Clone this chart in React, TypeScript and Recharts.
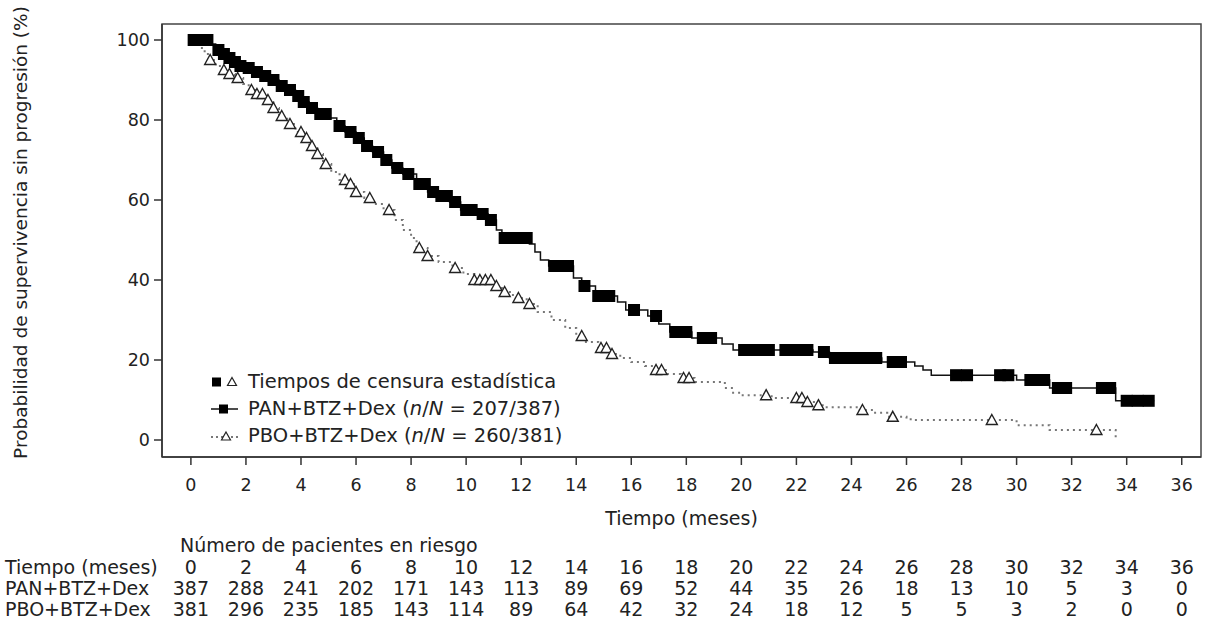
import React from "react";
import {
  ComposedChart,
  Line,
  Scatter,
  XAxis,
  YAxis,
  ReferenceArea,
} from "recharts";

// Kaplan-Meier step points (time in months, survival %)
const panTimes = [0, 0.7, 0.9, 1.1, 1.3, 1.5, 1.7, 2.0, 2.3, 2.6, 2.9, 3.2, 3.5, 3.8, 4.0, 4.3, 4.6, 5.0, 5.3, 5.6, 6.0, 6.3, 6.6, 7.0, 7.3, 7.7, 8.2, 8.6, 9.0, 9.4, 9.8, 10.4, 10.8, 11.1, 11.3, 12.3, 12.5, 12.7, 13.0, 13.9, 14.2, 14.7, 15.5, 15.8, 16.6, 17.0, 17.4, 18.2, 19.3, 19.7, 22.6, 23.2, 25.1, 26.3, 26.6, 26.9, 30.0, 31.2, 33.6, 35.0];
const panSurv = [100, 99, 97.5, 96.5, 95.5, 94.5, 93.5, 93, 92, 91, 90, 88.5, 87.5, 86, 84.5, 83, 81.5, 80.5, 78.5, 77, 75.5, 73.5, 72, 70, 68, 66.5, 64, 62, 61, 59.5, 57.5, 56.5, 55, 52.5, 50.5, 49, 47, 45, 43.5, 40.5, 38.5, 36, 34.5, 32.5, 31, 29, 27, 25.5, 24, 22.5, 22, 20.5, 19.5, 18.5, 17.5, 16.2, 15, 13, 9.8, 9.8];
const panCensor = [0.1, 0.2, 0.3, 0.4, 0.5, 0.6, 1.0, 1.2, 1.4, 1.6, 1.8, 2.1, 2.4, 2.7, 3.0, 3.3, 3.6, 3.9, 4.1, 4.4, 4.7, 4.9, 5.4, 5.8, 6.1, 6.4, 6.8, 7.1, 7.5, 7.9, 8.3, 8.5, 8.8, 9.1, 9.3, 9.6, 10.0, 10.2, 10.6, 10.9, 11.4, 11.6, 11.8, 12.0, 12.2, 13.2, 13.5, 13.7, 14.3, 14.8, 15.0, 15.2, 16.1, 16.9, 17.6, 17.8, 18.0, 18.6, 18.9, 20.1, 20.4, 20.7, 21.0, 21.6, 21.9, 22.2, 22.4, 23.0, 23.4, 23.7, 24.0, 24.3, 24.7, 24.9, 25.5, 25.8, 27.8, 28.2, 29.4, 29.7, 30.5, 30.8, 31.0, 31.5, 31.8, 33.1, 33.4, 34.0, 34.4, 34.8];

const pboTimes = [0, 0.3, 0.5, 0.7, 0.9, 1.1, 1.3, 1.6, 1.9, 2.1, 2.4, 2.7, 3.0, 3.2, 3.5, 3.8, 4.1, 4.3, 4.6, 4.8, 5.1, 5.4, 5.8, 6.0, 6.3, 6.6, 7.0, 7.4, 7.7, 8.0, 8.2, 8.6, 9.0, 9.5, 9.9, 10.3, 11.0, 11.3, 11.7, 12.2, 12.6, 13.1, 13.6, 14.0, 14.3, 14.8, 15.2, 15.6, 16.0, 16.5, 16.9, 17.3, 17.8, 18.3, 19.4, 19.7, 20.0, 21.1, 22.3, 22.8, 23.1, 24.3, 24.8, 25.3, 26.0, 26.3, 30.0, 31.2, 33.6];
const pboSurv = [100, 98, 96.5, 95, 93.5, 92.5, 91.5, 90.5, 89, 87.5, 86.5, 85, 83, 81, 79, 77, 75.5, 73.5, 71.5, 69, 67, 65, 64, 62, 60.5, 59, 57.5, 55, 52.5, 50.5, 48, 46, 44.5, 43, 41.5, 40, 38.5, 37, 35.5, 34, 32, 30, 28, 26, 24.5, 23, 21.5, 20.5, 19.5, 18.5, 17.5, 16.5, 15.5, 14.5, 13, 11.8, 11.2, 10.5, 9.5, 8.7, 8.2, 7.5, 6.8, 5.8, 5.2, 5.0, 3.7, 2.5, 0];
const pboCensor = [0.7, 1.2, 1.4, 1.7, 2.2, 2.4, 2.6, 2.8, 3.0, 3.3, 3.6, 4.0, 4.2, 4.4, 4.6, 4.9, 5.6, 5.8, 6.0, 6.5, 7.2, 8.3, 8.6, 9.6, 10.3, 10.5, 10.7, 10.9, 11.1, 11.4, 11.9, 12.3, 14.2, 14.9, 15.1, 15.3, 16.9, 17.1, 17.9, 18.1, 20.9, 22.0, 22.2, 22.4, 22.8, 24.4, 25.5, 29.1, 32.9];

// Number at risk table
const riskTimes = [0, 2, 4, 6, 8, 10, 12, 14, 16, 18, 20, 22, 24, 26, 28, 30, 32, 34, 36];
const panAtRisk = [387, 288, 241, 202, 171, 143, 113, 89, 69, 52, 44, 35, 26, 18, 13, 10, 5, 3, 0];
const pboAtRisk = [381, 296, 235, 185, 143, 114, 89, 64, 42, 32, 24, 18, 12, 5, 5, 3, 2, 0, 0];

const yTicks = [0, 20, 40, 60, 80, 100];

const FONT = "DejaVu Sans";
const INK = "#222";

const toPoints = (ts: number[], ss: number[]) => ts.map((t, i) => ({ t, s: ss[i] }));

// place censor marks on the step curve
const onCurve = (cs: number[], ts: number[], ss: number[]) =>
  cs.map((c) => {
    let k = 0;
    for (let i = 0; i < ts.length; i++) if (ts[i] <= c) k = i;
    return { t: c, s: ss[k] };
  });

const panLine = toPoints(panTimes, panSurv);
const pboLine = toPoints(pboTimes, pboSurv);
const panMarks = onCurve(panCensor, panTimes, panSurv);
const pboMarks = onCurve(pboCensor, pboTimes, pboSurv);

const Square = (p: any) => (
  <rect x={p.cx - 6} y={p.cy - 6} width={12} height={12} fill="#000" />
);

const Triangle = (p: any) => (
  <path
    d={`M${p.cx},${p.cy - 5.5} L${p.cx + 5.5},${p.cy + 4.5} L${p.cx - 5.5},${p.cy + 4.5} Z`}
    fill="#fff"
    stroke="#222"
    strokeWidth={1.4}
  />
);

const tickTxt = { fontFamily: FONT, fontSize: 17.5, fill: INK };
const txt = { fontFamily: FONT, fontSize: 19, fill: INK };

const XTick = (props: any) => {
  const { x, y, payload } = props;
  const i = riskTimes.indexOf(payload.value);
  return (
    <g>
      <text x={x} y={y + 24} textAnchor="middle" style={tickTxt}>{payload.value}</text>
      <text x={x} y={y + 107} textAnchor="middle" style={txt}>{riskTimes[i]}</text>
      <text x={x} y={y + 128} textAnchor="middle" style={txt}>{panAtRisk[i]}</text>
      <text x={x} y={y + 149} textAnchor="middle" style={txt}>{pboAtRisk[i]}</text>
      {i === 0 && (
        <g>
          <text x={180} y={y + 85} style={txt}>Número de pacientes en riesgo</text>
          <text x={5} y={y + 107} style={txt}>Tiempo (meses)</text>
          <text x={5} y={y + 128} style={txt}>PAN+BTZ+Dex</text>
          <text x={5} y={y + 149} style={txt}>PBO+BTZ+Dex</text>
        </g>
      )}
    </g>
  );
};

const legendRow: React.CSSProperties = {
  position: "absolute",
  left: 208,
  display: "flex",
  alignItems: "center",
  fontFamily: FONT,
  fontSize: 19.5,
  color: INK,
  whiteSpace: "nowrap",
  lineHeight: "22px",
};

export default function App() {
  return (
    <div style={{ position: "absolute", left: 0, top: 0, width: 1209, height: 623, background: "#fff" }}>
      <ComposedChart width={1209} height={623} margin={{ top: 24, right: 8, bottom: 0, left: 0 }}>
        <XAxis
          dataKey="t"
          type="number"
          domain={[-1.05, 36.7]}
          ticks={riskTimes}
          allowDataOverflow
          height={166}
          tickSize={8}
          tickMargin={2}
          axisLine={{ stroke: "#333", strokeWidth: 1.5 }}
          tickLine={{ stroke: "#333", strokeWidth: 1.5 }}
          tick={<XTick />}
          interval={0}
          label={{ value: "Tiempo (meses)", position: "insideTop", offset: 55, style: { ...txt } }}
        />
        <YAxis
          dataKey="s"
          type="number"
          domain={[-4.25, 104]}
          ticks={yTicks}
          allowDataOverflow
          width={162}
          tickSize={8}
          tickMargin={4}
          axisLine={{ stroke: "#333", strokeWidth: 1.5 }}
          tickLine={{ stroke: "#333", strokeWidth: 1.5 }}
          tick={{ ...tickTxt }}
          label={{
            value: "Probabilidad de supervivencia sin progresión (%)",
            angle: -90,
            position: "insideLeft",
            offset: 20,
            dy: -8,
            style: { ...txt, fontSize: 18.5, textAnchor: "middle" },
          }}
        />
        <ReferenceArea x1={-1.05} x2={36.7} y1={-4.25} y2={104} fill="none" stroke="#444" strokeWidth={1.5} />
        <Line data={pboLine} dataKey="s" type="stepAfter" stroke="#777" strokeWidth={2} strokeDasharray="2 4" dot={false} isAnimationActive={false} />
        <Line data={panLine} dataKey="s" type="stepAfter" stroke="#111" strokeWidth={1.5} dot={false} isAnimationActive={false} />
        <Scatter data={pboMarks} shape={<Triangle />} isAnimationActive={false} />
        <Scatter data={panMarks} shape={<Square />} isAnimationActive={false} />
      </ComposedChart>

      <div style={{ ...legendRow, top: 371 }}>
        <svg width={40} height={22}>
          <rect x={4} y={6.5} width={9} height={9} fill="#000" />
          <path d="M24,6.5 L28.5,14.5 L19.5,14.5 Z" fill="#fff" stroke="#222" strokeWidth={1.2} />
        </svg>
        <span>Tiempos de censura estadística</span>
      </div>
      <div style={{ ...legendRow, top: 398 }}>
        <svg width={40} height={22}>
          <line x1={3} y1={11} x2={30} y2={11} stroke="#111" strokeWidth={1.5} />
          <rect x={11} y={6.5} width={9} height={9} fill="#000" />
        </svg>
        <span>
          PAN+BTZ+Dex (<i>n</i>/<i>N</i> = 207/387)
        </span>
      </div>
      <div style={{ ...legendRow, top: 425 }}>
        <svg width={40} height={22}>
          <line x1={3} y1={12} x2={32} y2={12} stroke="#777" strokeWidth={2} strokeDasharray="2 3" />
          <path d="M18,7 L22.5,15 L13.5,15 Z" fill="#fff" stroke="#222" strokeWidth={1.2} />
        </svg>
        <span>
          PBO+BTZ+Dex (<i>n</i>/<i>N</i> = 260/381)
        </span>
      </div>
    </div>
  );
}
